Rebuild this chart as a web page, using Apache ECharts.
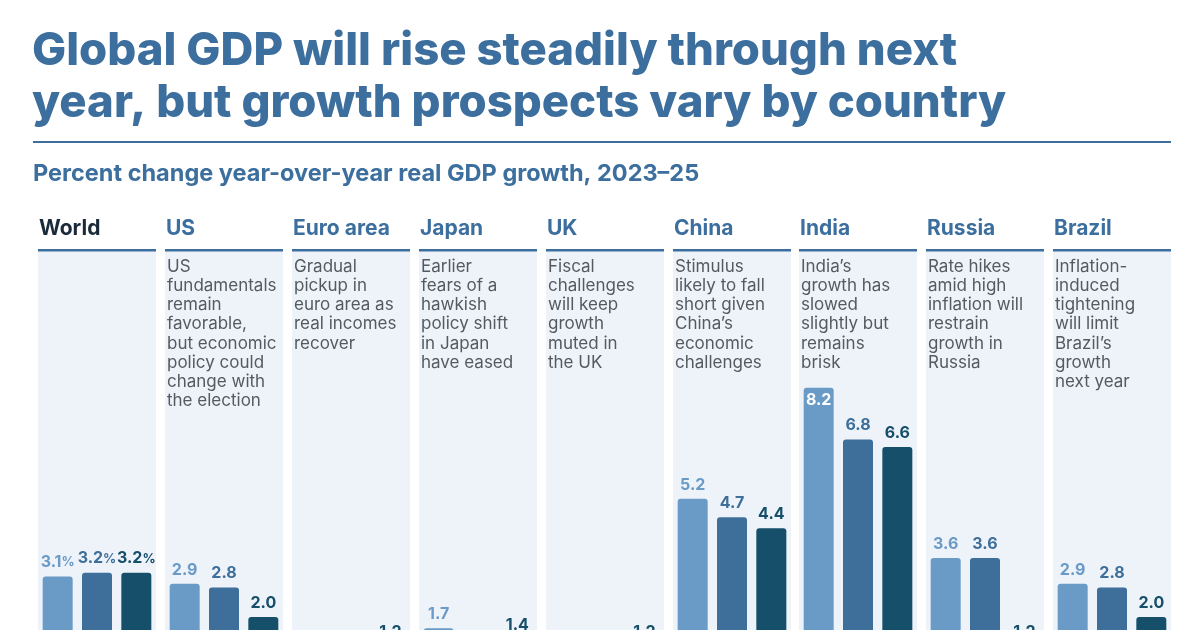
<!DOCTYPE html>
<html>
<head>
<meta charset="utf-8">
<script src="https://cdn.jsdelivr.net/npm/echarts@6/dist/echarts.min.js"></script>
<style>
    html, body {margin: 0; padding: 0; background: #fff;}
    #chart {width: 1200px; height: 630px;}
</style>
</head>
<body>
<div id="chart"></div>
<script>
// data
const regions = ['World', 'US', 'Euro area', 'Japan', 'UK', 'China', 'India', 'Russia', 'Brazil'];
const notes = [
    '',
    'US\nfundamentals\nremain\nfavorable,\nbut economic\npolicy could\nchange with\nthe election',
    'Gradual\npickup in\neuro area as\nreal incomes\nrecover',
    'Earlier\nfears of a\nhawkish\npolicy shift\nin Japan\nhave eased',
    'Fiscal\nchallenges\nwill keep\ngrowth\nmuted in\nthe UK',
    'Stimulus\nlikely to fall\nshort given\nChina\u2019s\neconomic\nchallenges',
    'India\u2019s\ngrowth has\nslowed\nslightly but\nremains\nbrisk',
    'Rate hikes\namid high\ninflation will\nrestrain\ngrowth in\nRussia',
    'Inflation-\ninduced\ntightening\nwill limit\nBrazil\u2019s\ngrowth\nnext year'
];
const years = ['2023', '2024', '2025'];
const gdp2023 = [3.1, 2.9, 0.5, 1.7, 0.3, 5.2, 8.2, 3.6, 2.9];
const gdp2024 = [3.2, 2.8, 0.8, 0.3, 0.9, 4.7, 6.8, 3.6, 2.8];
const gdp2025 = [3.2, 2.0, 1.2, 1.4, 1.2, 4.4, 6.6, 1.2, 2.0];

const yearColors = ['#6A9AC6', '#3E6F9B', '#154F69'];
const blue = '#3C6E9E';
const font = 'Inter';

let panelLeft = 38;
let panelPitch = 126.9;
let panelWidth = 118;
let panelTop = 251;
let panelHeight = 440;
let yMax = 11.9;

let option = {
    animation: false,
    backgroundColor: '#fff',
    title: [
        {
            text: 'Global GDP will rise steadily through next\nyear, but growth prospects vary by country',
            left: 32, top: 25, padding: 0,
            textStyle: {fontFamily: font, fontWeight: 800, fontSize: 45.5, lineHeight: 52, color: blue}
        },
        {
            text: 'Percent change year-over-year real GDP growth, 2023\u201325',
            left: 33, top: 162, padding: 0,
            textStyle: {fontFamily: font, fontWeight: 'bold', fontSize: 23.5, lineHeight: 24, color: blue}
        }
    ],
    graphic: [
        {type: 'rect', shape: {x: 33, y: 141, width: 1138, height: 2}, style: {fill: blue}}
    ],
    grid: [],
    xAxis: [],
    yAxis: [],
    series: []
};

function barItem(v, i, isWorld, inside) {
    let lbl = {
        show: true,
        position: inside ? 'insideTop' : 'top',
        distance: inside ? 4 : 6,
        fontFamily: font,
        fontWeight: 'bold',
        fontSize: 16,
        color: inside ? '#fff' : yearColors[i]
    };
    if (isWorld) {
        lbl.formatter = '{n|' + v.toFixed(1) + '}{p|%}';
        lbl.rich = {
            n: {fontFamily: font, fontWeight: 'bold', fontSize: 16, color: yearColors[i]},
            p: {fontFamily: font, fontSize: 13, color: yearColors[i]}
        };
    } else {
        lbl.formatter = v.toFixed(1);
    }
    return {value: v, itemStyle: {color: yearColors[i], borderRadius: [3, 3, 0, 0]}, label: lbl};
}

regions.forEach(function (name, k) {
    let x = Math.round(panelLeft + k * panelPitch);
    option.grid.push({
        left: x, top: panelTop, width: panelWidth, height: panelHeight,
        outerBoundsMode: 'none',
        show: true, backgroundColor: '#EEF3FA', borderWidth: 0
    });
    option.xAxis.push({
        type: 'category', gridIndex: k, data: years,
        axisLine: {show: false}, axisTick: {show: false}, axisLabel: {show: false}
    });
    option.yAxis.push({
        type: 'value', gridIndex: k, min: 0, max: yMax,
        axisLine: {show: false}, axisTick: {show: false}, axisLabel: {show: false}, splitLine: {show: false}
    });
    let vals = [gdp2023[k], gdp2024[k], gdp2025[k]];
    option.series.push({
        type: 'bar', xAxisIndex: k, yAxisIndex: k, barWidth: 30,
        data: vals.map(function (v, i) {
            return barItem(v, i, k === 0, name === 'India' && i === 0);
        })
    });
    option.graphic.push({type: 'rect', shape: {x: x, y: 249, width: panelWidth, height: 2.5}, style: {fill: blue}});
    option.title.push({
        text: name, left: x + 1, top: 217, padding: 0,
        textStyle: {fontFamily: font, fontWeight: 'bold', fontSize: 21, lineHeight: 24, color: k === 0 ? '#1B2A3A' : blue}
    });
    if (notes[k]) {
        option.title.push({
            text: notes[k], left: x + 2, top: 257, padding: 0,
            textStyle: {fontFamily: font, fontWeight: 'normal', fontSize: 17, lineHeight: 19.2, color: '#555a60'}
        });
    }
});

let chart = echarts.init(document.getElementById('chart'));
chart.setOption(option);
</script>
</body>
</html>
